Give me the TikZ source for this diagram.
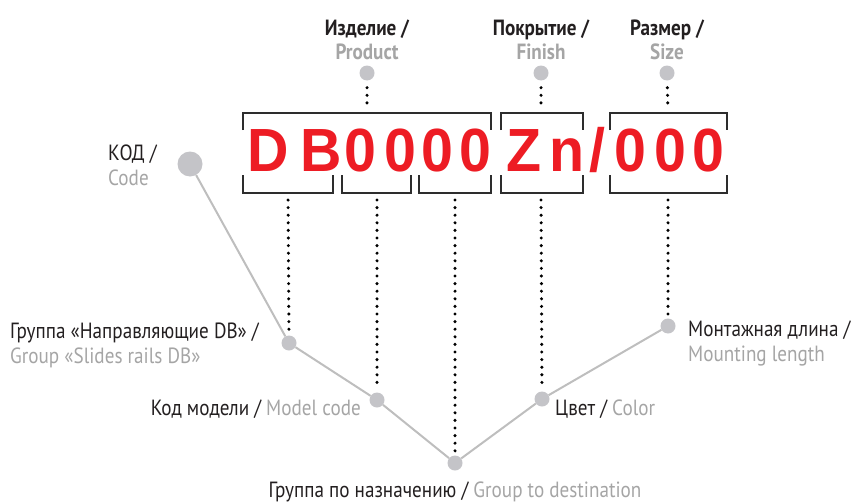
\documentclass[tikz,border=0pt]{standalone}
\usepackage{fontspec}
\setmainfont{PT Sans}[FakeStretch=0.87]
\newfontfamily\codefont{Liberation Sans}[FakeStretch=0.94]
\usetikzlibrary{positioning}
\definecolor{txtblack}{RGB}{35,31,32}
\definecolor{txtgrey}{RGB}{165,165,165}
\definecolor{knobgrey}{RGB}{196,196,200}
\definecolor{trunkgrey}{RGB}{190,190,190}
\definecolor{codered}{RGB}{237,28,36}
\definecolor{bracketgrey}{RGB}{45,45,45}
\newcommand\codeslash{/}
\tikzset {
  every node/.style={font=\fontsize{22}{25}\selectfont, inner sep=0pt, text=txtblack},
  keydot/.style={circle, fill=knobgrey, minimum size=15pt},
  trunk/.style={trunkgrey, line width=2pt},
  dotline/.style={line width=3.4pt, line cap=round, dash pattern=on 0pt off 7.6pt},
  bracket/.style={bracketgrey, line width=2.4pt},
  codechar/.style={font=\codefont\bfseries\fontsize{61}{61}\selectfont, text=codered, anchor=base},
  toplbl/.style={font=\bfseries\fontsize{22}{24}\selectfont, align=center, anchor=south},
  lbl/.style={align=left},
}

\begin{document}
\begin{tikzpicture}[x=1pt,y=-1pt]
  \useasboundingbox (0,0) rectangle (853,503);

  % the code itself
  \foreach \ch/\cx [count=\i] in {D/268,B/321,0/360,0/400,0/437,0/475,Z/524,n/567,\codeslash/597,0/630,0/670,0/708}
    \node[codechar] (ch\i) at (\cx,171) {\ch};

  % brackets
  \foreach \xa/\xb in {243/491,501/583,610/727}
    \draw[bracket] (\xa,130) -- (\xa,113) -- (\xb,113) -- (\xb,130);
  \foreach \xa/\xb in {243/333,342/411,419/491,501/583,610/727}
    \draw[bracket] (\xa,175) -- (\xa,193) -- (\xb,193) -- (\xb,175);
  \coordinate (prodbr) at (367,113);
  \coordinate (finbr) at (541,113);
  \coordinate (sizebr) at (668,113);
  \coordinate (grpbr) at (288,193);
  \coordinate (modbr) at (377,193);
  \coordinate (destbr) at (455,193);
  \coordinate (colbr) at (541,193);
  \coordinate (mntbr) at (668,193);

  % top labels
  \node[toplbl] (prod) at (367,60) {Изделие /\\\textcolor{txtgrey}{Product}};
  \node[toplbl] (fin) at (541,60) {Покрытие /\\\textcolor{txtgrey}{Finish}};
  \node[toplbl] (size) at (667,60) {Размер /\\\textcolor{txtgrey}{Size}};
  \node[keydot] (prodk) at (367,73) {};
  \node[keydot] (fink) at (541,73) {};
  \node[keydot] (sizek) at (667,73) {};
  \draw[dotline, shorten <=7pt, shorten >=8pt] (prodk) -- (prodbr);
  \draw[dotline, shorten <=7pt, shorten >=8pt] (fink) -- (finbr);
  \draw[dotline, shorten <=7pt, shorten >=8pt] (sizek) -- (sizebr);

  % knobs along the trunk
  \node[keydot, minimum size=25pt] (code) at (190,164) {};
  \node[keydot] (grp) at (289,343) {};
  \node[keydot] (model) at (377,400) {};
  \node[keydot] (dest) at (455,463) {};
  \node[keydot] (color) at (542,399) {};
  \node[keydot] (mount) at (668,326) {};
  \draw[trunk] (code) -- (grp) -- (model) -- (dest) -- (color) -- (mount);

  \draw[dotline, shorten <=7pt, shorten >=3pt] (grpbr) -- (grp);
  \draw[dotline, shorten <=7pt, shorten >=3pt] (modbr) -- (model);
  \draw[dotline, shorten <=7pt, shorten >=3pt] (destbr) -- (dest);
  \draw[dotline, shorten <=7pt, shorten >=3pt] (colbr) -- (color);
  \draw[dotline, shorten <=7pt, shorten >=3pt] (mntbr) -- (mount);

  % labels
  \node[lbl, anchor=base west] (codel) at (108,185) {КОД /\\\textcolor{txtgrey}{Code}};
  \node[lbl, anchor=base west] (grpl) at (10,363) {Группа «Направляющие DB» /\\\textcolor{txtgrey}{Group «Slides rails DB»}};
  \node[anchor=base east] (modell) at (361,415) {Код модели / \textcolor{txtgrey}{Model code}};
  \node[anchor=base] (destl) at (455,497) {Группа по назначению / \textcolor{txtgrey}{Group to destination}};
  \node[anchor=base west] (colorl) at (555,415) {Цвет / \textcolor{txtgrey}{Color}};
  \node[lbl, anchor=base west] (mountl) at (688,361) {Монтажная длина /\\\textcolor{txtgrey}{Mounting length}};
\end{tikzpicture}
\end{document}
